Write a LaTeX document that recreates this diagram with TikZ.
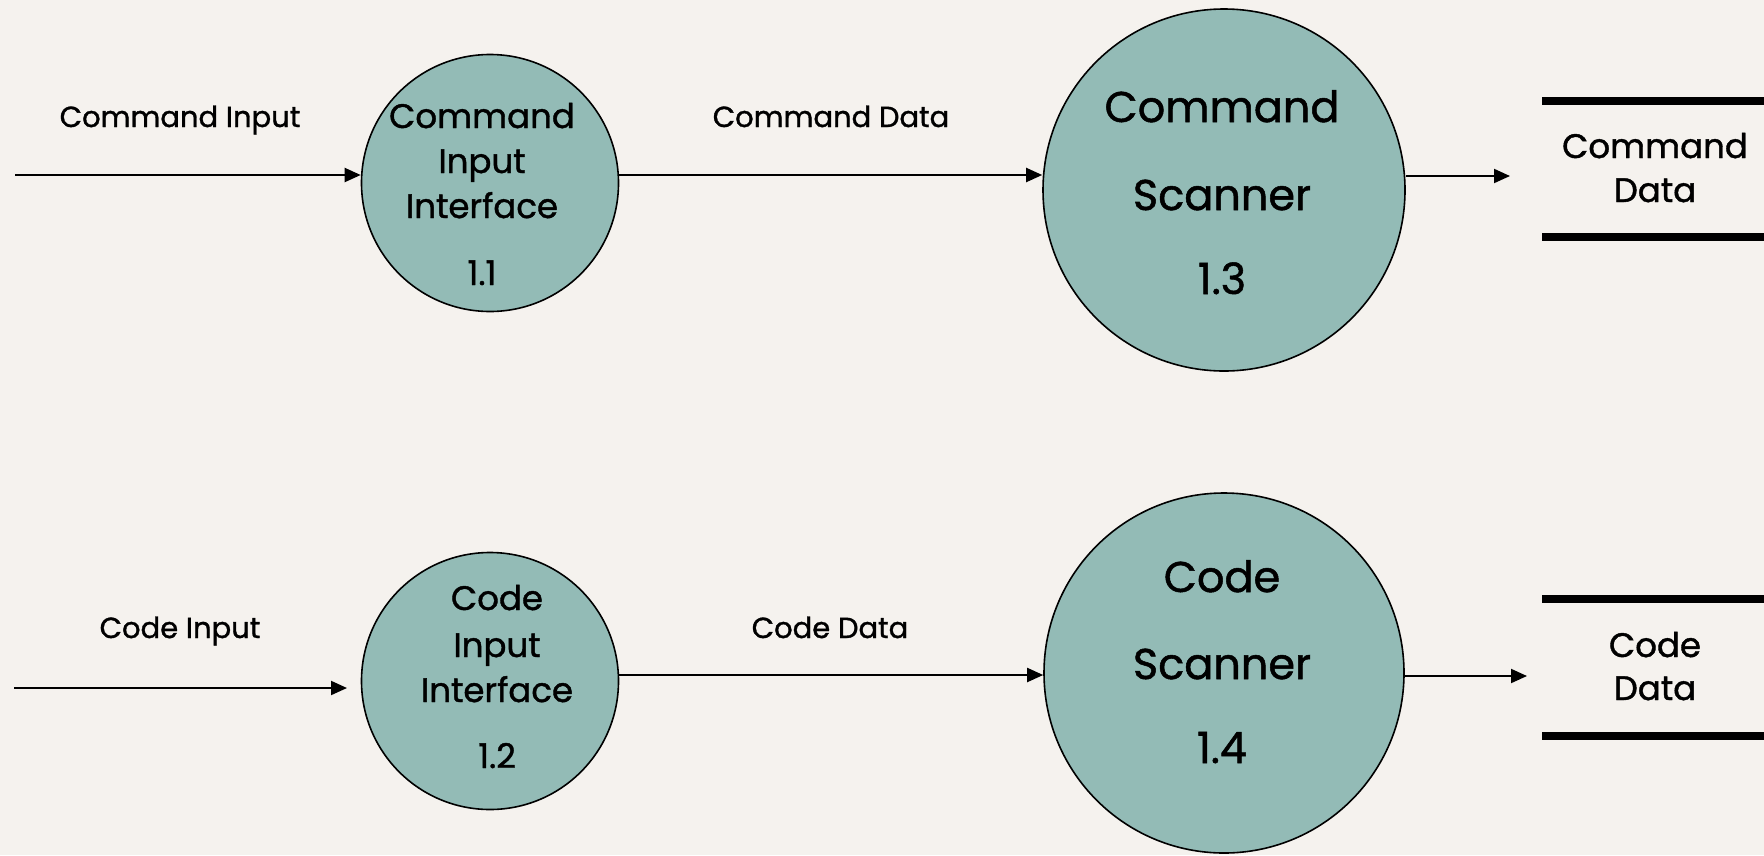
\documentclass[tikz,border=0pt]{standalone}
\usepackage{fontspec}
\setmainfont{Poppins}[FakeBold=1.2]
\usetikzlibrary{arrows.meta}
\definecolor{bgcol}{HTML}{F5F2EE}
\definecolor{proccol}{HTML}{93BBB6}
\tikzset{
  proc/.style={circle, draw=black, line width=1.6pt, fill=proccol, inner sep=0pt},
  flow/.style={line width=2pt, -{Triangle[length=16pt,width=14pt]}},
  storeline/.style={line width=8pt},
  lbl/.style={anchor=base, inner sep=0pt, font=\fontsize{29}{29}\selectfont},
  ptxt/.style={anchor=base, inner sep=0pt, font=\fontsize{34}{34}\selectfont},
  btxt/.style={anchor=base, inner sep=0pt, font=\fontsize{43}{43}\selectfont},
}
\begin{document}
\begin{tikzpicture}[x=1pt, y=-1pt]
\useasboundingbox (0,0) rectangle (1764,855);
\fill[bgcol] (0,0) rectangle (1764,855);

% processes
\node[proc, minimum size=257pt] (p11) at (490,183) {};
\node[proc, minimum size=257pt] (p12) at (490,681) {};
\node[proc, minimum size=362pt] (p13) at (1224,190) {};
\node[proc, minimum size=360pt] (p14) at (1224,673) {};

% process texts
\node[ptxt] (t11a) at (482,128) {Command};
\node[ptxt] (t11b) at (482,173) {Input};
\node[ptxt] (t11c) at (482,218) {Interface};
\node[ptxt] (t11d) at (482,285) {1.1};

\node[ptxt] (t12a) at (497,610) {Code};
\node[ptxt] (t12b) at (497,657) {Input};
\node[ptxt] (t12c) at (497,702) {Interface};
\node[ptxt] (t12d) at (497,768) {1.2};

\node[btxt] (t13a) at (1222,122) {Command};
\node[btxt] (t13b) at (1222,210) {Scanner};
\node[btxt] (t13c) at (1222,294) {1.3};

\node[btxt] (t14a) at (1222,592) {Code};
\node[btxt] (t14b) at (1222,679) {Scanner};
\node[btxt] (t14c) at (1222,763) {1.4};

% data stores
\coordinate (s1a) at (1542,101);
\coordinate (s1b) at (1764,101);
\coordinate (s1c) at (1542,237);
\coordinate (s1d) at (1764,237);
\draw[storeline] (s1a) -- (s1b);
\draw[storeline] (s1c) -- (s1d);
\node[ptxt] (s1t1) at (1655,158) {Command};
\node[ptxt] (s1t2) at (1655,202) {Data};

\coordinate (s2a) at (1542,599);
\coordinate (s2b) at (1764,599);
\coordinate (s2c) at (1542,736);
\coordinate (s2d) at (1764,736);
\draw[storeline] (s2a) -- (s2b);
\draw[storeline] (s2c) -- (s2d);
\node[ptxt] (s2t1) at (1655,657) {Code};
\node[ptxt] (s2t2) at (1655,700) {Data};

% flows
\coordinate (row1) at (0,175);
\coordinate (row2) at (0,675);
\coordinate (cin) at (15,175);
\coordinate (din) at (14,688);
\coordinate (dtip) at (347,688);
\coordinate (s1in) at (1510,176);
\coordinate (s2in) at (1527,676);

\draw[flow] (cin) -- (cin -| p11.west);
\draw[flow] (p11.east |- row1) -- (p13.west |- row1);
\draw[flow] (p13.east |- s1in) -- (s1in);

\draw[flow] (din) -- (dtip);
\draw[flow] (p12.east |- row2) -- (p14.west |- row2);
\draw[flow] (p14.east |- s2in) -- (s2in);

% flow labels
\node[lbl] (l1) at (180,127) {Command Input};
\node[lbl] (l2) at (831,127) {Command Data};
\node[lbl] (l3) at (180,638) {Code Input};
\node[lbl] (l4) at (830,638) {Code Data};
\end{tikzpicture}
\end{document}
